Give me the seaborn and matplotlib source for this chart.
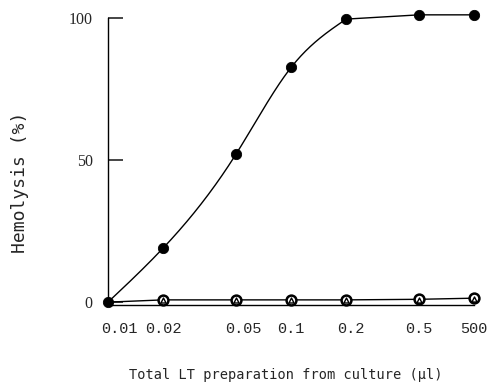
import numpy as np
import pandas as pd
import matplotlib
matplotlib.use("Agg")
import matplotlib.pyplot as plt
import matplotlib.transforms as mtrans
import seaborn as sns

# Data
doses = [0.01, 0.02, 0.05, 0.1, 0.2, 0.5, 1.0]
tick_labels = ["0.01", "0.02", "0.05", "0.1", "0.2", "0.5", "500"]
filled = [0, 19, 52, 82.5, 99.5, 101, 101]
open_circle = [0, 0.8, 0.8, 0.8, 0.8, 1.0, 1.4]
open_triangle = [0, 0.6, 0.6, 0.6, 0.6, 0.8, 1.2]
y_ticks = [0, 50, 100]

sns.set_theme(style="white")
plt.rcParams['font.family'] = ['DejaVu Sans Mono', 'DejaVu Sans']

fig = plt.figure(figsize=(5.02, 3.90), dpi=100)
ax = fig.add_axes([108/502, (390-305.0)/390, 370/502, 293.0/390])


def natural_spline(x, y, xn):
    x = np.asarray(x, float); y = np.asarray(y, float)
    n = len(x); h = np.diff(x)
    A = np.zeros((n, n)); b = np.zeros(n)
    A[0, 0] = 1; A[-1, -1] = 1
    for i in range(1, n-1):
        A[i, i-1] = h[i-1]; A[i, i] = 2*(h[i-1]+h[i]); A[i, i+1] = h[i]
        b[i] = 6*((y[i+1]-y[i])/h[i] - (y[i]-y[i-1])/h[i-1])
    M = np.linalg.solve(A, b)
    out = np.empty_like(xn)
    for j, xv in enumerate(xn):
        k = min(max(np.searchsorted(x, xv) - 1, 0), n-2)
        t0 = x[k+1] - xv; t1 = xv - x[k]
        out[j] = (M[k]*t0**3 + M[k+1]*t1**3)/(6*h[k]) \
            + (y[k]/h[k] - M[k]*h[k]/6)*t0 + (y[k+1]/h[k] - M[k+1]*h[k]/6)*t1
    return out


# smooth rising part (0.01 .. 0.2), then straight plateau segments
n_smooth = 5
lx = np.log10(doses[:n_smooth])
xs = np.linspace(lx[0], lx[-1], 300)
curve = pd.DataFrame({"x": np.concatenate([10**xs, doses[n_smooth:]]),
                      "y": np.concatenate([natural_spline(lx, filled[:n_smooth], xs),
                                           filled[n_smooth:]])})
sns.lineplot(data=curve, x="x", y="y", ax=ax, color="black", lw=1.0,
             sort=False, estimator=None)

df = pd.DataFrame({"dose": doses, "filled": filled,
                   "oc": open_circle, "ot": open_triangle})
sns.lineplot(data=df, x="dose", y="oc", ax=ax, color="black", lw=1.0)
sns.scatterplot(data=df, x="dose", y="filled", ax=ax, color="black",
                s=55, edgecolor="black", zorder=5, clip_on=False)
sns.scatterplot(data=df.iloc[1:], x="dose", y="oc", ax=ax, facecolor="white",
                edgecolor="black", linewidth=1.8, s=50, zorder=5, clip_on=False)
sns.scatterplot(data=df.iloc[1:], x="dose", y="ot", ax=ax, marker="^", facecolor="white",
                edgecolor="black", linewidth=1.0, s=13, zorder=6, clip_on=False)

ax.set_xscale("log")
ax.set_xlim(0.01, 1.05)
ax.set_ylim(-1, 102)
ax.minorticks_off()
ax.set_xticks(doses)
ax.set_xticklabels(tick_labels, fontsize=11, family=['Liberation Mono'])
ax.set_yticks(y_ticks)
ax.set_yticklabels([str(v) for v in y_ticks], fontsize=11.5, family=['Liberation Serif'])
ax.tick_params(axis="x", length=0, pad=12)
ax.tick_params(axis="y", direction="in", length=11, width=1.2, pad=11, left=True)

# small horizontal offsets of some x tick labels, as typeset in the original
offsets = {"0.01": 11, "0.05": 7, "0.2": 5}
for lab in ax.get_xticklabels():
    dx = offsets.get(lab.get_text(), 0)
    if dx:
        lab.set_transform(lab.get_transform() +
                          mtrans.ScaledTranslation(dx/100, 0, fig.dpi_scale_trans))

for s in ["top", "right"]:
    ax.spines[s].set_visible(False)
ax.spines["left"].set_bounds(0, 100)
ax.spines["left"].set_linewidth(1.0)
ax.spines["left"].set_color("black")
ax.spines["bottom"].set_bounds(0.01, 1.0)
ax.spines["bottom"].set_linewidth(1.0)
ax.spines["bottom"].set_color("black")

ax.set_xlabel("Total LT preparation from culture (\u03bcl)", fontsize=9.8)
ax.xaxis.set_label_coords(0.48, -0.215)
ax.set_ylabel("Hemolysis (%)", fontsize=13)
ax.yaxis.set_label_coords(-0.214, 0.42)

fig.savefig("out.png", dpi=100)
